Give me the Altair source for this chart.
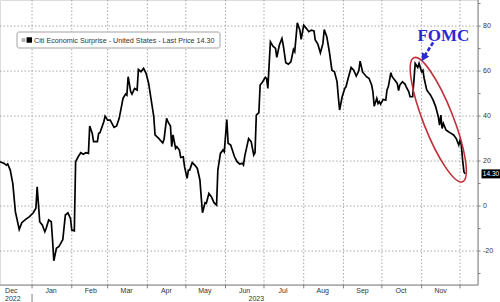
import altair as alt
import pandas as pd

# ---------------- data ----------------
dates = [
    "2022-12-07", "2022-12-10", "2022-12-12", "2022-12-13", "2022-12-15", "2022-12-17",
    "2022-12-19", "2022-12-22", "2022-12-24", "2022-12-27", "2022-12-30",
    "2023-01-02", "2023-01-04", "2023-01-05", "2023-01-07", "2023-01-09", "2023-01-11",
    "2023-01-12", "2023-01-14", "2023-01-16", "2023-01-17", "2023-01-18", "2023-01-20",
    "2023-01-22", "2023-01-24", "2023-01-25", "2023-01-27", "2023-01-29", "2023-01-31",
    "2023-02-01", "2023-02-03", "2023-02-04", "2023-02-06", "2023-02-08", "2023-02-10",
    "2023-02-12", "2023-02-14", "2023-02-15", "2023-02-17", "2023-02-18", "2023-02-21",
    "2023-02-22", "2023-02-23", "2023-02-26", "2023-02-27",
    "2023-03-01", "2023-03-03", "2023-03-06", "2023-03-08", "2023-03-10", "2023-03-12",
    "2023-03-13", "2023-03-15", "2023-03-16", "2023-03-17", "2023-03-19", "2023-03-20",
    "2023-03-22", "2023-03-24", "2023-03-25", "2023-03-27", "2023-03-29", "2023-03-31",
    "2023-04-02", "2023-04-04", "2023-04-06", "2023-04-07", "2023-04-10", "2023-04-11",
    "2023-04-13", "2023-04-14", "2023-04-16", "2023-04-17", "2023-04-19", "2023-04-20",
    "2023-04-21", "2023-04-23", "2023-04-24", "2023-04-26", "2023-04-27", "2023-04-29",
    "2023-04-30",
    "2023-05-02", "2023-05-03", "2023-05-04", "2023-05-06", "2023-05-08", "2023-05-10",
    "2023-05-12", "2023-05-13", "2023-05-14", "2023-05-16", "2023-05-17", "2023-05-19",
    "2023-05-21", "2023-05-23", "2023-05-25", "2023-05-26", "2023-05-28", "2023-05-30",
    "2023-05-31",
    "2023-06-02", "2023-06-03", "2023-06-05", "2023-06-08", "2023-06-10", "2023-06-12",
    "2023-06-14", "2023-06-15", "2023-06-16", "2023-06-19", "2023-06-21", "2023-06-23",
    "2023-06-24", "2023-06-25", "2023-06-27", "2023-06-28", "2023-06-30",
    "2023-07-02", "2023-07-03", "2023-07-04", "2023-07-06", "2023-07-08", "2023-07-10",
    "2023-07-11", "2023-07-13", "2023-07-15", "2023-07-16", "2023-07-18", "2023-07-20",
    "2023-07-22", "2023-07-24", "2023-07-25", "2023-07-27", "2023-07-29", "2023-07-30",
    "2023-08-01", "2023-08-03", "2023-08-05", "2023-08-07", "2023-08-09", "2023-08-10",
    "2023-08-12", "2023-08-14", "2023-08-16", "2023-08-17", "2023-08-19", "2023-08-21",
    "2023-08-23", "2023-08-25", "2023-08-27", "2023-08-28", "2023-08-29", "2023-08-31",
    "2023-09-02", "2023-09-03", "2023-09-05", "2023-09-07", "2023-09-09", "2023-09-11",
    "2023-09-13", "2023-09-14", "2023-09-16", "2023-09-19", "2023-09-21", "2023-09-23",
    "2023-09-24", "2023-09-25", "2023-09-27", "2023-09-28", "2023-09-29", "2023-09-30",
    "2023-10-02", "2023-10-04", "2023-10-05", "2023-10-06", "2023-10-08", "2023-10-09",
    "2023-10-11", "2023-10-13", "2023-10-14", "2023-10-15", "2023-10-17", "2023-10-19",
    "2023-10-20", "2023-10-22", "2023-10-23", "2023-10-25", "2023-10-26", "2023-10-27",
    "2023-10-29", "2023-10-30",
    "2023-11-01", "2023-11-02", "2023-11-03", "2023-11-05", "2023-11-06", "2023-11-08",
    "2023-11-10", "2023-11-12", "2023-11-14", "2023-11-15", "2023-11-16", "2023-11-17",
    "2023-11-18", "2023-11-20", "2023-11-22", "2023-11-24", "2023-11-26", "2023-11-28",
    "2023-11-30", "2023-12-01", "2023-12-02", "2023-12-03", "2023-12-04", "2023-12-05",
]
values = [
    19.7, 19.0, 18.2, 18.7, 16.0, 10.0,
    -2.5, -10.4, -7.4, -5.9, -4.7,
    -3.0, -1.0, 8.6, -7.0, -8.4, -11.4,
    -10.0, -6.2, -7.0, -15.0, -24.3, -18.8,
    -18.0, -15.9, -15.0, -4.0, -3.0, -5.5,
    -10.7, -11.0, 19.7, 21.9, 23.7, 23.0,
    23.7, 23.4, 35.6, 32.3, 28.6, 28.6,
    32.3, 32.6, 37.5, 40.0,
    38.2, 38.2, 35.0, 35.6, 39.0, 44.9,
    47.9, 49.8, 49.3, 57.5, 50.8, 49.8,
    52.3, 51.6, 60.7, 59.7, 61.2, 59.0,
    54.5, 47.1, 39.7, 31.6, 30.0, 29.3,
    28.1, 29.6, 39.0, 37.5, 35.6, 26.4,
    31.6, 25.6, 26.4, 24.9, 21.6, 21.9,
    17.5,
    12.3, 16.0, 16.0, 19.3, 18.2, 16.7,
    11.6, 4.1, -3.0, 1.5, 1.2, 5.6,
    4.1, 1.5, 0.4, 16.0, 23.4, 24.9,
    24.1,
    38.5, 27.9, 27.1, 21.9, 19.7, 18.7,
    19.0, 18.2, 22.2, 30.0, 28.6, 22.7,
    23.7, 40.4, 41.5, 53.8, 55.3,
    57.2, 56.7, 52.3, 73.0, 71.1, 70.1,
    66.1, 71.6, 74.5, 71.6, 63.7, 63.1,
    64.1, 69.6, 68.6, 81.5, 78.2, 74.1,
    80.4, 79.0, 77.5, 78.2, 77.9, 73.8,
    72.0, 68.1, 72.3, 78.5, 75.3, 68.6,
    60.4, 59.7, 55.3, 48.6, 42.7, 48.6,
    52.3, 53.0, 57.5, 61.6, 60.4, 57.8,
    60.1, 64.4, 59.5, 57.5, 56.7, 53.8,
    50.8, 44.4, 47.9, 45.6, 46.4, 45.3,
    47.4, 47.1, 51.6, 53.0, 59.3, 57.5,
    56.0, 54.5, 51.3, 53.8, 55.3, 54.2,
    53.0, 50.8, 48.6, 48.6, 56.0, 63.4,
    61.6, 63.4,
    59.7, 60.4, 56.7, 51.6, 50.8, 49.3,
    47.1, 44.1, 39.7, 36.0, 40.4, 34.5,
    36.7, 33.8, 33.0, 32.3, 31.6, 30.0,
    27.1, 29.3, 27.1, 20.4, 15.3, 14.3,
]
series_name = "Citi Economic Surprise - United States - Last Price 14.30"
last_price = 14.30
last_label = "14.30"

x_domain = ["2022-12-07", "2023-12-15"]
y_domain = [-35.1, 91.6]
y_tick_end = "2023-12-17"      # outer end of the right-axis ticks
x_tick_end = -36.6             # outer end of the bottom-axis ticks

y_label_values = [-20, 0, 20, 40, 60, 80]
y_label_texts = ["-20", "0", "20", "40", "60", "80"]
y_tick_values = [-30, -20, -10, 0, 10, 20, 30, 40, 50, 60, 70, 80, 90]

month_starts = ["2023-01-01", "2023-02-01", "2023-03-01", "2023-04-01", "2023-05-01",
                "2023-06-01", "2023-07-01", "2023-08-01", "2023-09-01", "2023-10-01",
                "2023-11-01", "2023-12-01"]
month_label_dates = ["2022-12-01", "2023-01-01", "2023-02-01", "2023-03-01", "2023-04-01",
                     "2023-05-01", "2023-06-01", "2023-07-01", "2023-08-01", "2023-09-01",
                     "2023-10-01", "2023-11-01"]
month_labels = ["Dec", "Jan", "Feb", "Mar", "Apr", "May", "Jun", "Jul", "Aug", "Sep",
                "Oct", "Nov"]
year_dates = ["2022-12-17", "2023-06-25"]
year_labels = ["2022", "2023"]
year_sep_date = ["2023-01-01"]

# annotations (data coordinates)
fomc_text = "FOMC"
fomc_text_pos = (["2023-11-18"], [73.5])
arrow_from = (["2023-11-10"], [72.7])
arrow_to = (["2023-11-03"], [66.5])
arrow_tip = (["2023-11-01"], [64.4])
ellipse_center = (["2023-11-14"], [38.4])

# ---------------- styling ----------------
FONT = "Liberation Sans, Arial, sans-serif"
BLUE = "#2a2ad2"
RED = "#c0303a"
GRID = "#a8a8a8"
AXC = "#808080"
LABC = "#333333"

W, H = 478, 285

xscale = alt.Scale(
    type="utc",
    domain=[alt.DateTime(year=2022, month=12, date=7, utc=True),
            alt.DateTime(year=2023, month=12, date=15, utc=True)],
    nice=False,
)
yscale = alt.Scale(domain=y_domain, nice=False, zero=False)


def X(field="date"):
    return alt.X(f"{field}:T", scale=xscale, axis=None)


def Y(field="value"):
    return alt.Y(f"{field}:Q", scale=yscale, axis=None)


def seg_chart(rows, **mark):
    d = pd.DataFrame(rows, columns=["date", "value", "date2", "value2"])
    return alt.Chart(d).mark_rule(**mark).encode(
        x=X(), y=Y(), x2="date2:T", y2="value2:Q")


df = pd.DataFrame({"date": dates, "value": values})

# grid segments (from tick lists and the domain)
grid_rows = ([[x_domain[0], v, x_domain[1], v] for v in y_label_values] +
             [[m, y_domain[0], m, y_domain[1]] for m in month_starts])
grid = seg_chart(grid_rows, color=GRID, strokeWidth=1, strokeDash=[1.5, 2], opacity=1)

# axis lines and ticks
dom_rows = [[x_domain[1], y_domain[0], x_domain[1], y_domain[1]],
            [x_domain[0], y_domain[0], x_domain[1], y_domain[0]]]
domain = seg_chart(dom_rows, color=AXC, strokeWidth=1, opacity=1)
ytick_rows = [[x_domain[1], v, y_tick_end, v] for v in y_tick_values]
yticks = seg_chart(ytick_rows, color=AXC, strokeWidth=1, opacity=1)
xtick_rows = [[m, y_domain[0], m, x_tick_end] for m in month_starts]
xticks = seg_chart(xtick_rows, color=AXC, strokeWidth=1, opacity=1)

# labels
ylab_df = pd.DataFrame({"value": y_label_values, "t": y_label_texts})
ylabels = alt.Chart(ylab_df).mark_text(
    align="left", baseline="middle", fontSize=7, font=FONT, color=LABC,
).encode(y=Y(), x=alt.value(483), text="t:N")
mlab_df = pd.DataFrame({"date": month_label_dates, "t": month_labels})
xlabels = alt.Chart(mlab_df).mark_text(
    align="center", baseline="middle", fontSize=7, font=FONT, color=LABC, dx=19,
).encode(x=X(), y=alt.value(290.5), text="t:N")
yr_df = pd.DataFrame({"date": year_dates, "t": year_labels})
years = alt.Chart(yr_df).mark_text(
    fontSize=7, font=FONT, color=LABC, align="center", baseline="middle",
).encode(x=X(), y=alt.value(298.5), text="t:N")
sep_df = pd.DataFrame({"date": year_sep_date})
sep = alt.Chart(sep_df).mark_rule(color=AXC, strokeWidth=1).encode(
    x=X(), y=alt.value(294), y2=alt.value(302))

# main series
line = alt.Chart(df).mark_line(color="black", strokeWidth=1.7).encode(x=X(), y=Y())

# red ellipse
ELLIPSE = ("M0,-1 C0.1243,-1 0.225,-0.5523 0.225,0 C0.225,0.5523 0.1243,1 0,1 "
           "C-0.1243,1 -0.225,0.5523 -0.225,0 C-0.225,-0.5523 -0.1243,-1 0,-1 Z")
ell_df = pd.DataFrame({"date": ellipse_center[0], "value": ellipse_center[1]})
ellipse = alt.Chart(ell_df).mark_point(
    shape=ELLIPSE, size=17742, angle=338.6, filled=False, color=RED,
    strokeWidth=1.6, opacity=1,
).encode(x=X(), y=Y())

# arrow
arrow = seg_chart([[arrow_from[0][0], arrow_from[1][0], arrow_to[0][0], arrow_to[1][0]]],
                  color=BLUE, strokeWidth=2.6, strokeDash=[4, 2])
head_df = pd.DataFrame({"date": arrow_tip[0], "value": arrow_tip[1]})
head = alt.Chart(head_df).mark_point(
    shape="M0,0 L0.85,1.6 L-0.85,1.6 Z", size=100, angle=210, filled=True,
    color=BLUE, opacity=1,
).encode(x=X(), y=Y())

fomc_df = pd.DataFrame({"date": fomc_text_pos[0], "value": fomc_text_pos[1], "t": [fomc_text]})
fomc = alt.Chart(fomc_df).mark_text(
    font="Liberation Serif", fontWeight="bold", fontSize=17, color=BLUE,
    align="center", baseline="alphabetic",
).encode(x=X(), y=Y(), text="t:N")

# last price tag
lp_df = pd.DataFrame({"value": [last_price], "t": [last_label]})
lp_box = alt.Chart(lp_df).mark_point(
    shape="M-1.9,-0.9 L1.9,-0.9 L1.9,0.9 L-1.9,0.9 Z", size=100, filled=True,
    color="black", opacity=1,
).encode(x=alt.value(491), y=Y())
lp_text = alt.Chart(lp_df).mark_text(
    color="white", fontSize=6.5, font=FONT, align="center", baseline="middle",
).encode(x=alt.value(491), y=Y(), text="t:N")

# legend box
leg_df = pd.DataFrame({"label": [series_name]})
leg_box = alt.Chart(leg_df).mark_rect(
    fill="white", stroke="#8a8a8a", strokeWidth=0.8, cornerRadius=2,
).encode(x=alt.value(17), x2=alt.value(220), y=alt.value(32), y2=alt.value(48))
leg_sq1 = alt.Chart(leg_df).mark_square(size=14, color="#b0b0b0", opacity=1).encode(
    x=alt.value(23.5), y=alt.value(40))
leg_sq2 = alt.Chart(leg_df).mark_square(size=30, color="black", opacity=1).encode(
    x=alt.value(29.3), y=alt.value(40))
leg_txt = alt.Chart(leg_df).mark_text(
    align="left", baseline="middle", fontSize=7.2, font=FONT, color=LABC,
).encode(x=alt.value(34), y=alt.value(40.5), text="label:N")

chart = alt.layer(
    grid, domain, yticks, xticks, ylabels, xlabels, years, sep,
    line, leg_box, leg_sq1, leg_sq2, leg_txt, ellipse, arrow, head, fomc,
    lp_box, lp_text,
).properties(
    width=W, height=H,
    padding={"left": 0, "top": 0, "right": 22, "bottom": 17},
    autosize=alt.AutoSizeParams(type="none"),
).configure_view(stroke=None).configure(background="white")

chart.save("out.html", embed_options={"renderer": "svg", "actions": False})
